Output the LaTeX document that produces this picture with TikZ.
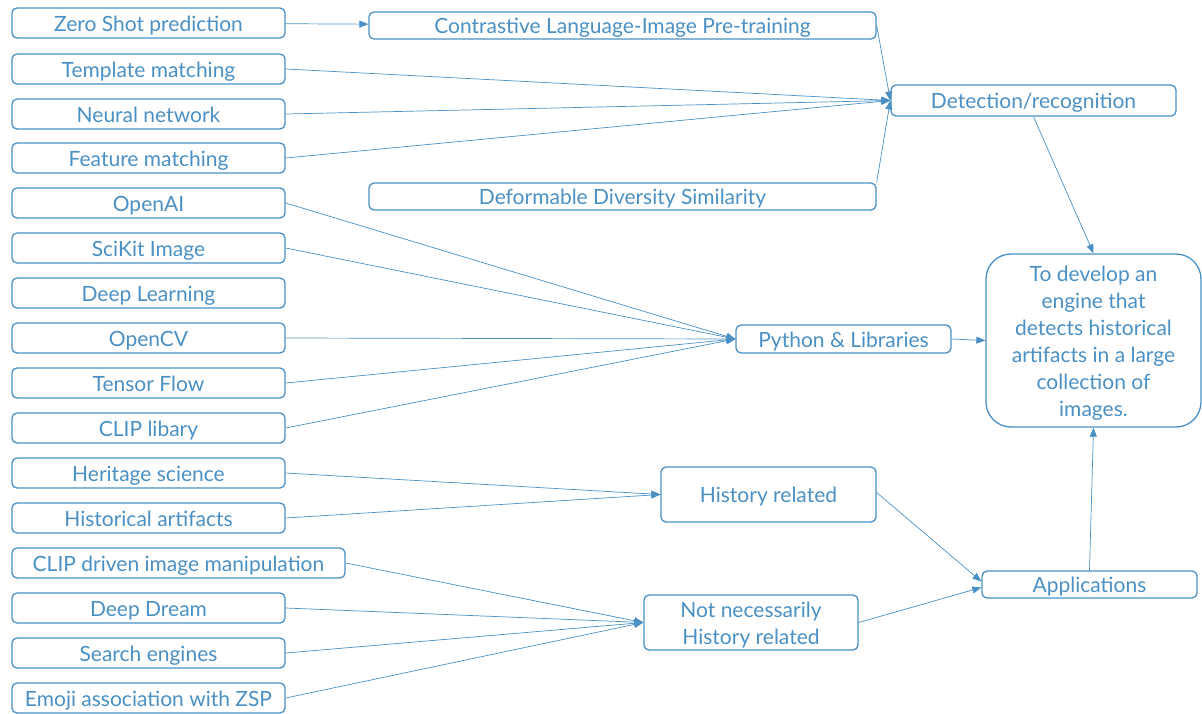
\documentclass[tikz,border=0pt]{standalone}
\usepackage{fontspec}
\setmainfont{Lato}
\usetikzlibrary{arrows.meta}
\definecolor{bl}{RGB}{74,144,196}
\begin{document}
\begin{tikzpicture}[x=1pt,y=-1pt,
  txt/.style={text=bl,font=\fontsize{21}{27}\selectfont,inner sep=0pt,align=center},
  box/.style={draw=bl,line width=1.3pt,rounded corners=5pt,txt},
  one/.style={text height=20pt,text depth=3.3pt},
  lbox/.style={box,one,minimum width=273pt,minimum height=30pt},
  conn/.style={draw=bl,line width=0.7pt,-{Triangle[length=9pt,width=7pt]}}]
\useasboundingbox (0,0) rectangle (1202,713);
% left column
\node[lbox] (zsp) at (148.5,23) {Zero Shot prediction};
\node[lbox] (tm) at (148.5,69) {Template matching};
\node[lbox] (nn) at (148.5,114) {Neural network};
\node[lbox] (fm) at (148.5,158) {Feature matching};
\node[lbox] (oai) at (148.5,203) {OpenAI};
\node[lbox] (ski) at (148.5,248) {SciKit Image};
\node[lbox] (dl) at (148.5,293) {Deep Learning};
\node[lbox] (ocv) at (148.5,338) {OpenCV};
\node[lbox] (tf) at (148.5,383) {Tensor Flow};
\node[lbox] (clipl) at (148.5,428) {CLIP libary};
\node[lbox] (hs) at (148.5,473) {Heritage science};
\node[lbox] (ha) at (148.5,518) {Historical artifacts};
\node[box,one,minimum width=333pt,minimum height=30pt] (cdim) at (178.5,563) {CLIP driven image manipulation};
\node[lbox] (dd) at (148.5,608) {Deep Dream};
\node[lbox] (se) at (148.5,653) {Search engines};
\node[lbox] (emo) at (148.5,698) {Emoji association with ZSP};
% middle
\node[box,one,minimum width=507pt,minimum height=27pt] (con) at (622.5,25.5) {Contrastive Language-Image Pre-training};
\node[box,one,minimum width=507pt,minimum height=27pt] (dds) at (622.5,196.5) {Deformable Diversity Similarity};
\node[box,one,minimum width=285pt,minimum height=31pt] (det) at (1033.5,100.5) {Detection/recognition};
\node[box,one,minimum width=215pt,minimum height=28pt] (py) at (843.5,339) {Python \& Libraries};
\node[box,one,minimum width=215pt,minimum height=55pt] (hr) at (768.5,494.5) {History related};
\node[box,minimum width=214pt,minimum height=55pt] (nhr) at (751,622.5) {};
\node[txt] (nhrt) at ([yshift=-2.5pt]nhr.center) {Not necessarily\\History related};
\node[box,one,minimum width=215pt,minimum height=27pt] (app) at (1089.5,584.5) {Applications};
\node[box,rounded corners=25pt,minimum width=215pt,minimum height=173pt] (goal) at (1093.5,340.5) {};
\node[txt] (goalt) at ([yshift=-3pt]goal.center)
  {To develop an\\engine that\\detects historical\\artifacts in a large\\collection of\\images.};
% connectors
\draw[conn] (zsp) -- (con);
\draw[conn] (con.east) -- (det.west);
\draw[conn] (tm.east) -- (det.west);
\draw[conn] (nn.east) -- (det.west);
\draw[conn] (fm.east) -- (det.west);
\draw[conn] (dds.north east) -- (det.west);
\draw[conn] (det.south) -- (goal.north);
\foreach \n in {oai,ski,ocv,tf,clipl} \draw[conn] (\n.east) -- (py.west);
\draw[conn] (py.east) -- (goal.west);
\foreach \n in {hs,ha} \draw[conn] (\n.east) -- (hr.west);
\foreach \n in {cdim,dd,se,emo} \draw[conn] (\n.east) -- (nhr.west);
\draw[conn] ([yshift=2pt]hr.east) -- ([yshift=3pt]app.west);
\draw[conn] (nhr.east) -- ([yshift=-3pt]app.west);
\draw[conn] (app.north) -- (goal.south);
\end{tikzpicture}
\end{document}
